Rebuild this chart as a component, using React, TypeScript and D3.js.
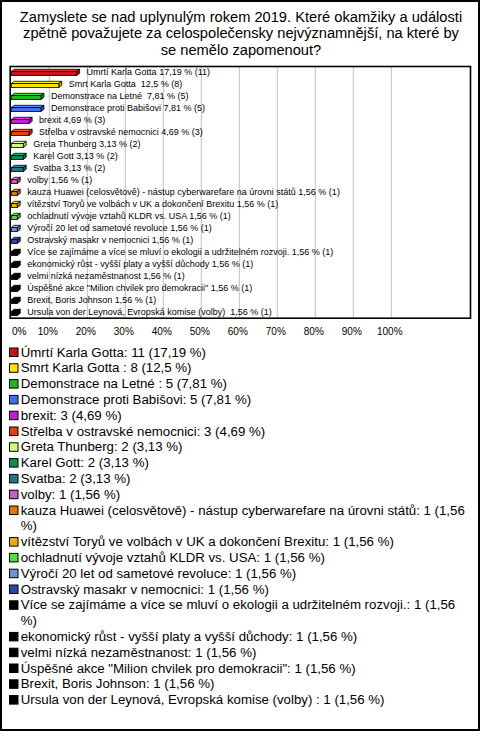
import React, { useMemo } from 'react';
import * as d3 from 'd3';

const titleLines = [
  'Zamyslete se nad uplynulým rokem 2019. Které okamžiky a události',
  'zpětně považujete za celospolečensky nejvýznamnější, na které by',
  'se nemělo zapomenout?',
];

const categories = [
  'Úmrtí Karla Gotta',
  'Smrt Karla Gotta ',
  'Demonstrace na Letné ',
  'Demonstrace proti Babišovi',
  'brexit',
  'Střelba v ostravské nemocnici',
  'Greta Thunberg',
  'Karel Gott',
  'Svatba',
  'volby',
  'kauza Huawei (celosvětově) - nástup cyberwarefare na úrovni států',
  'vítězství Toryů ve volbách v UK a dokončení Brexitu',
  'ochladnutí vývoje vztahů KLDR vs. USA',
  'Výročí 20 let od sametové revoluce',
  'Ostravský masakr v nemocnici',
  'Více se zajímáme a více se mluví o ekologii a udržitelném rozvoji.',
  'ekonomický růst - vyšší platy a vyšší důchody',
  'velmi nízká nezaměstnanost',
  'Úspěšné akce "Milion chvilek pro demokracii"',
  'Brexit, Boris Johnson',
  'Ursula von der Leynová, Evropská komise (volby) ',
];

const counts = [11, 8, 5, 5, 3, 3, 2, 2, 2, 1, 1, 1, 1, 1, 1, 1, 1, 1, 1, 1, 1];

const percents = [17.19, 12.5, 7.81, 7.81, 4.69, 4.69, 3.13, 3.13, 3.13, 1.56, 1.56, 1.56, 1.56, 1.56, 1.56, 1.56, 1.56, 1.56, 1.56, 1.56, 1.56];

const colors = [
  '#c4161b', '#ffe200', '#1fb61f', '#3f6fec', '#c11fd2', '#e2420f', '#c9ff78',
  '#0f8c4e', '#1e7889', '#c45ec4', '#e07800', '#e6b400', '#52e034', '#6a93e0',
  '#2a49ab', '#000000', '#000000', '#000000', '#000000', '#000000', '#000000',
];

const xTicks = [0, 10, 20, 30, 40, 50, 60, 70, 80, 90, 100];

const W = 480;
const H = 731;
const FONT = "'Liberation Sans', Arial, Helvetica, sans-serif";

const fmt = (v: number) => String(v).replace('.', ',');

function wrapText(text: string, maxW: number, font: string): string[] {
  const canvas = document.createElement('canvas');
  const ctx = canvas.getContext('2d');
  if (!ctx) return [text];
  ctx.font = font;
  const words = text.split(' ');
  const lines: string[] = [];
  let cur = '';
  for (const w of words) {
    const test = cur === '' ? w : cur + ' ' + w;
    if (ctx.measureText(test).width > maxW && cur !== '') {
      lines.push(cur);
      cur = w;
    } else {
      cur = test;
    }
  }
  if (cur !== '') lines.push(cur);
  return lines;
}

export default function App() {
  const plot = { left: 10.2, top: 66.5, right: 470.5, bottom: 318.2 };
  const x = d3.scaleLinear().domain([0, 100]).range([11.3, 391.3]);
  const y = d3
    .scaleBand<number>()
    .domain(d3.range(categories.length))
    .range([plot.top - 0.5, plot.bottom - 0.2])
    .paddingInner(0);

  const legendFontSize = 13.25;
  const legendLineH = 15.8;
  const legendFirstBaseline = 356.5;

  const legendItems = useMemo(() => {
    let line = 0;
    return categories.map((c, i) => {
      const label = `${c}: ${counts[i]} (${fmt(percents[i])} %)`;
      const lines = wrapText(label, 450, `${legendFontSize}px ${FONT}`);
      const item = { lines, start: line, color: colors[i] };
      line += lines.length;
      return item;
    });
  }, []);

  const dx = 3;
  const dy = 2.2;

  return (
    <svg
      width={W}
      height={H}
      style={{ position: 'absolute', left: 0, top: 0, background: '#fff' }}
      fontFamily={FONT}
    >
      <rect x={0} y={0} width={W} height={H} fill="#fff" />
      <rect x={1} y={1} width={W - 2} height={H - 2} fill="none" stroke="#000" strokeWidth={2} />

      {titleLines.map((t, i) => (
        <text key={i} x={W / 2 + 1} y={21.5 + i * 16.5} textAnchor="middle" fontSize={14.67} fill="#000">
          {t}
        </text>
      ))}

      {xTicks.slice(1).map((t) => (
        <line key={t} x1={x(t)} x2={x(t)} y1={plot.top} y2={plot.bottom} stroke="#c0c0c0" strokeWidth={1} />
      ))}

      <rect
        x={plot.left}
        y={plot.top}
        width={plot.right - plot.left}
        height={plot.bottom - plot.top}
        fill="none"
        stroke="#000"
        strokeWidth={1.6}
      />

      {categories.map((c, i) => {
        const cy = (y(i) as number) + y.bandwidth() / 2;
        const x0 = x(0);
        const x1 = x(percents[i]);
        const top = cy - 0.5;
        const h = 4;
        const col = d3.color(colors[i]) as d3.RGBColor;
        const light = col.brighter(0.7).formatHex();
        const dark = col.darker(0.7).formatHex();
        return (
          <g key={i}>
            <polygon
              points={`${x0},${top} ${x0 + dx},${top - dy} ${x1 + dx},${top - dy} ${x1},${top}`}
              fill={light}
              stroke="#000"
              strokeWidth={0.8}
              strokeLinejoin="round"
            />
            <polygon
              points={`${x1},${top} ${x1 + dx},${top - dy} ${x1 + dx},${top + h - dy} ${x1},${top + h}`}
              fill={dark}
              stroke="#000"
              strokeWidth={0.8}
              strokeLinejoin="round"
            />
            <rect x={x0} y={top} width={x1 - x0} height={h} fill={colors[i]} stroke="#000" strokeWidth={0.8} />
            <text
              x={x1 + 10}
              y={cy + 3}
              fontSize={9}
              fill="#000"
              style={{ whiteSpace: 'pre' }}
            >
              {`${c} ${fmt(percents[i])} % (${counts[i]})`}
            </text>
          </g>
        );
      })}

      {xTicks.map((t) => (
        <text
          key={t}
          x={t === 0 ? 12 : x(t) - 1.5}
          y={335}
          fontSize={10}
          textAnchor={t === 0 ? 'start' : 'middle'}
          fill="#000"
        >
          {`${t}%`}
        </text>
      ))}

      {legendItems.map((it, i) => {
        const base = legendFirstBaseline + it.start * legendLineH;
        return (
          <g key={i}>
            <rect x={9.5} y={base - 8.5} width={8.5} height={8.5} fill={it.color} stroke="#000" strokeWidth={1} />
            {it.lines.map((ln, j) => (
              <text
                key={j}
                x={20.7}
                y={base + j * legendLineH}
                fontSize={legendFontSize}
                fill="#000"
                style={{ whiteSpace: 'pre' }}
              >
                {ln}
              </text>
            ))}
          </g>
        );
      })}
    </svg>
  );
}
